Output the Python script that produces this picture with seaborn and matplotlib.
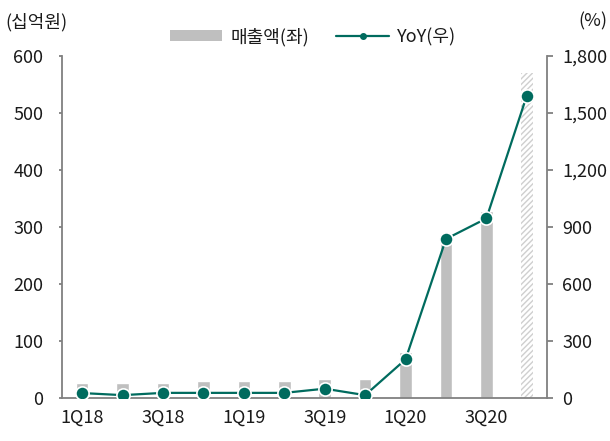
import numpy as np
import pandas as pd
import matplotlib
matplotlib.use("Agg")
import matplotlib.pyplot as plt
import seaborn as sns
from matplotlib.patches import Patch
from matplotlib.lines import Line2D
from matplotlib.ticker import FuncFormatter

quarters = ["1Q18", "2Q18", "3Q18", "4Q18", "1Q19", "2Q19", "3Q19", "4Q19",
            "1Q20", "2Q20", "3Q20", "4Q20"]
sales = [26, 26, 26, 30, 30, 30, 33, 33, 81, 278, 328, 570]
yoy = [26, 15, 27, 27, 27, 27, 49, 15, 203, 837, 945, 1591]
shown_labels = ["1Q18", "3Q18", "1Q19", "3Q19", "1Q20", "3Q20"]

sns.set_theme(style="white")
plt.rcParams['font.family'] = ['Noto Sans CJK KR', 'DejaVu Sans']

BAR = "#BFBFBF"
LINE = "#006B5E"
SPINE = "#808080"
TXT = "#1a1a1a"
FS = 13

df = pd.DataFrame({"q": quarters, "sales": sales, "yoy": yoy})

fig = plt.figure(figsize=(6.1, 4.41), dpi=100)
ax = fig.add_axes([62/610, 1-398/441, (547-62)/610, (398-56)/441])

sns.barplot(data=df, x="q", y="sales", order=quarters, color=BAR,
            width=0.31, saturation=1, ax=ax)
last = ax.patches[-1]
last.set_facecolor("white")
last.set_hatch("//////")
last.set_edgecolor("#CFCFCF")
last.set_linewidth(0)

ax2 = ax.twinx()
sns.pointplot(data=df, x="q", y="yoy", order=quarters, color=LINE,
              markers="o", linestyles="-", ax=ax2,
              markersize=9.5, markeredgecolor="white", markeredgewidth=1.2,
              linewidth=1.6)

ax.set_xlim(-0.5, 11.5)
ax2.set_xlim(-0.5, 11.5)
ax.set_ylim(0, 600)
ax2.set_ylim(0, 1800)
ax.set_yticks(range(0, 601, 100))
ax2.set_yticks(range(0, 1801, 300))
ax2.yaxis.set_major_formatter(FuncFormatter(lambda v, p: f"{int(v):,}"))

ax.set_xticks(np.arange(-0.5, 12, 1))
ax.set_xticklabels([])
label_pos = [quarters.index(l) for l in shown_labels]
ax.set_xticks(label_pos, minor=True)
ax.set_xticklabels(shown_labels, minor=True)
ax.tick_params(axis="x", which="major", length=3.5, width=1.3, color=SPINE, direction="out")
ax.tick_params(axis="x", which="minor", length=0, labelsize=FS, pad=8, labelcolor=TXT)
ax.tick_params(axis="y", length=2.5, width=1.3, color=SPINE, direction="out",
               labelsize=FS, labelcolor=TXT, pad=11, left=True)
ax2.tick_params(axis="y", length=4, width=1.3, color=SPINE, direction="out",
                labelsize=FS, labelcolor=TXT, pad=7, right=True)

for a in (ax, ax2):
    a.set_xlabel("")
    a.set_ylabel("")
    a.spines["top"].set_visible(False)
    for s in ("left", "right", "bottom"):
        a.spines[s].set_color(SPINE)
        a.spines[s].set_linewidth(1.3)
    a.grid(False)
ax.spines["right"].set_visible(False)
ax2.spines["left"].set_visible(False)
ax2.spines["bottom"].set_visible(False)
ax.set_facecolor("none")

fig.text(5/610, 1-22/441, "(십억원)", fontsize=FS, ha="left", va="center", color=TXT)
fig.text(607/610, 1-21/441, "(%)", fontsize=FS, ha="right", va="center", color=TXT)

handles = [Patch(facecolor=BAR, edgecolor="none"),
           Line2D([0], [0], color=LINE, lw=1.6, marker="o", markersize=4)]
fig.legend(handles, ["매출액(좌)", "YoY(우)"], loc="center",
           bbox_to_anchor=(313/610, 1-37/441), ncol=2, frameon=False,
           fontsize=FS, handlelength=2.9, handleheight=0.55, columnspacing=1.5,
           handletextpad=0.45, labelcolor=TXT)

fig.savefig("out.png", dpi=100)
